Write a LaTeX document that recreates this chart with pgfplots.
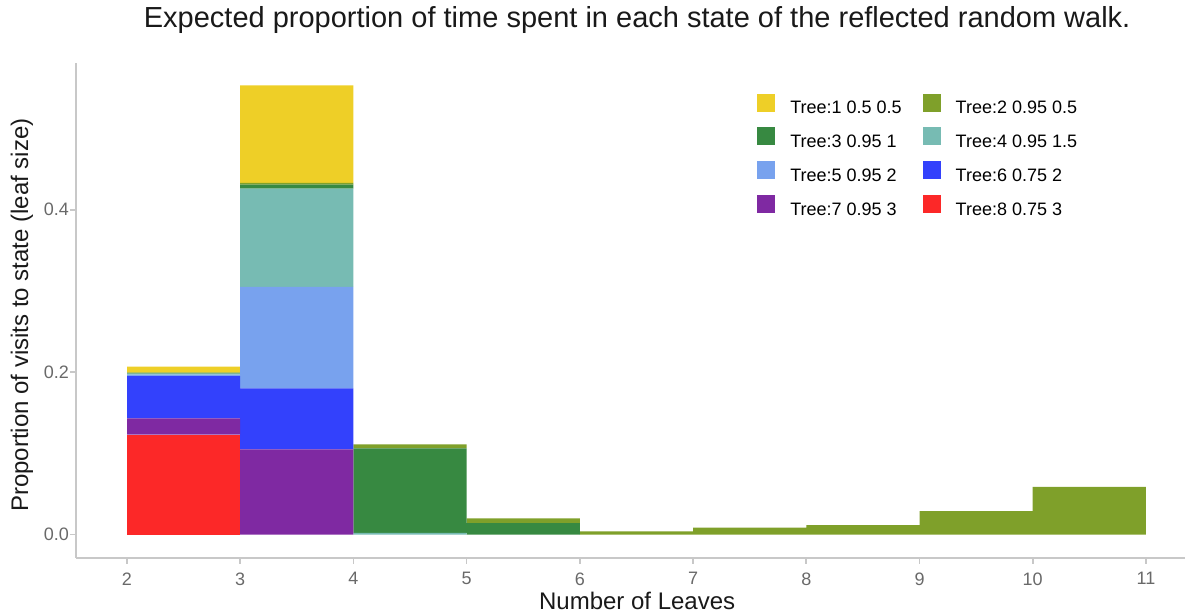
\documentclass[border=0pt]{standalone}
\usepackage{fontspec}
\setmainfont{Liberation Sans}
\usepackage{pgfplots}
\pgfplotsset{compat=1.18}
\definecolor{t1}{RGB}{238,207,39}
\definecolor{t2}{RGB}{127,160,42}
\definecolor{t3}{RGB}{55,137,65}
\definecolor{t4}{RGB}{119,187,179}
\definecolor{t5}{RGB}{120,162,238}
\definecolor{t6}{RGB}{51,65,252}
\definecolor{t7}{RGB}{127,41,162}
\definecolor{t8}{RGB}{252,40,40}
\definecolor{lgrey}{RGB}{200,200,200}
\definecolor{tgrey}{RGB}{105,105,105}
\begin{document}
\begin{tikzpicture}
\useasboundingbox (-38pt,-26.25pt) rectangle (555.5pt,278.75pt);
\begin{axis}[
  at={(0,0)}, anchor=south west, scale only axis,
  width=554.5pt, height=247.25pt,
  xmin=1.5495, xmax=11.345, ymin=-0.0283, ymax=0.5807,
  axis x line*=bottom, axis y line*=left,
  axis line style={-, draw=lgrey, line width=1pt},
  tick align=outside, major tick length=3pt,
  tick style={draw=lgrey, line width=0.8pt},
  xtick={2,3,4,5,6,7,8,9,10,11},
  ytick={0,0.2,0.4},
  yticklabel style={/pgf/number format/fixed, /pgf/number format/precision=1, /pgf/number format/fixed zerofill, xshift=3pt},
  xticklabel style={yshift=-1pt},
  /pgf/number format/assume math mode=true,
  ticklabel style={font=\fontsize{9}{11}\selectfont, text=tgrey},
  ybar stacked, bar width=1,
  title={Expected proportion of time spent in each state of the reflected random walk.},
  title style={at={(rel axis cs:0.506,1)}, anchor=base, yshift=11.5pt, inner sep=0pt, font=\fontsize{14.5}{17}\selectfont, text=black!90},
  xlabel={Number of Leaves},
  ylabel={Proportion of visits to state (leaf size)},
  every axis x label/.style={at={(rel axis cs:0.506,0)}, anchor=north, yshift=-17.25pt, inner sep=0pt, font=\fontsize{12}{14}\selectfont, text=black!90},
  every axis y label/.style={at={(rel axis cs:-0.0487,0.490)}, rotate=90, anchor=center, inner sep=0pt, font=\fontsize{12}{14}\selectfont, text=black!90},
  legend columns=2,
  legend cell align=left,
  legend image code/.code={\fill[#1] (0pt,-1.3pt) rectangle (9pt,7.7pt);},
  legend style={at={(rel axis cs:0.614,0.939)}, anchor=north west, draw=none, fill=none,
    font=\fontsize{9}{11}\selectfont, inner sep=0pt, row sep=5.3pt, column sep=0pt,
    nodes={inner sep=0pt},
    /tikz/column 1/.style={column sep=7.5pt},
    /tikz/column 2/.style={column sep=10.5pt},
    /tikz/column 3/.style={column sep=7.5pt}},
]
\addlegendimage{fill=t1, draw=none}\addlegendentry{Tree:1 0.5 0.5}
\addlegendimage{fill=t2, draw=none}\addlegendentry{Tree:2 0.95 0.5}
\addlegendimage{fill=t3, draw=none}\addlegendentry{Tree:3 0.95 1}
\addlegendimage{fill=t4, draw=none}\addlegendentry{Tree:4 0.95 1.5}
\addlegendimage{fill=t5, draw=none}\addlegendentry{Tree:5 0.95 2}
\addlegendimage{fill=t6, draw=none}\addlegendentry{Tree:6 0.75 2}
\addlegendimage{fill=t7, draw=none}\addlegendentry{Tree:7 0.95 3}
\addlegendimage{fill=t8, draw=none}\addlegendentry{Tree:8 0.75 3}
% Tree 8
\addplot[fill=t8, draw=none, forget plot] coordinates {(2.5,0.123) (3.5,0) (4.5,0) (5.5,0) (6.5,0) (7.5,0) (8.5,0) (9.5,0) (10.5,0)};
% Tree 7
\addplot[fill=t7, draw=none, forget plot] coordinates {(2.5,0.020) (3.5,0.105) (4.5,0) (5.5,0) (6.5,0) (7.5,0) (8.5,0) (9.5,0) (10.5,0)};
% Tree 6
\addplot[fill=t6, draw=none, forget plot] coordinates {(2.5,0.052) (3.5,0.075) (4.5,0) (5.5,0) (6.5,0) (7.5,0) (8.5,0) (9.5,0) (10.5,0)};
% Tree 5
\addplot[fill=t5, draw=none, forget plot] coordinates {(2.5,0.002) (3.5,0.125) (4.5,0) (5.5,0) (6.5,0) (7.5,0) (8.5,0) (9.5,0) (10.5,0)};
% Tree 4
\addplot[fill=t4, draw=none, forget plot] coordinates {(2.5,0.001) (3.5,0.121) (4.5,0.002) (5.5,0) (6.5,0) (7.5,0) (8.5,0) (9.5,0) (10.5,0)};
% Tree 3
\addplot[fill=t3, draw=none, forget plot] coordinates {(2.5,0.001) (3.5,0.005) (4.5,0.104) (5.5,0.014) (6.5,0) (7.5,0) (8.5,0) (9.5,0) (10.5,0)};
% Tree 2
\addplot[fill=t2, draw=none, forget plot] coordinates {(2.5,0.0005) (3.5,0.002) (4.5,0.005) (5.5,0.006) (6.5,0.004) (7.5,0.0086) (8.5,0.0115) (9.5,0.0287) (10.5,0.0586)};
% Tree 1
\addplot[fill=t1, draw=none, forget plot] coordinates {(2.5,0.0074) (3.5,0.120) (4.5,0) (5.5,0) (6.5,0) (7.5,0) (8.5,0) (9.5,0) (10.5,0)};
\end{axis}
\end{tikzpicture}
\end{document}
